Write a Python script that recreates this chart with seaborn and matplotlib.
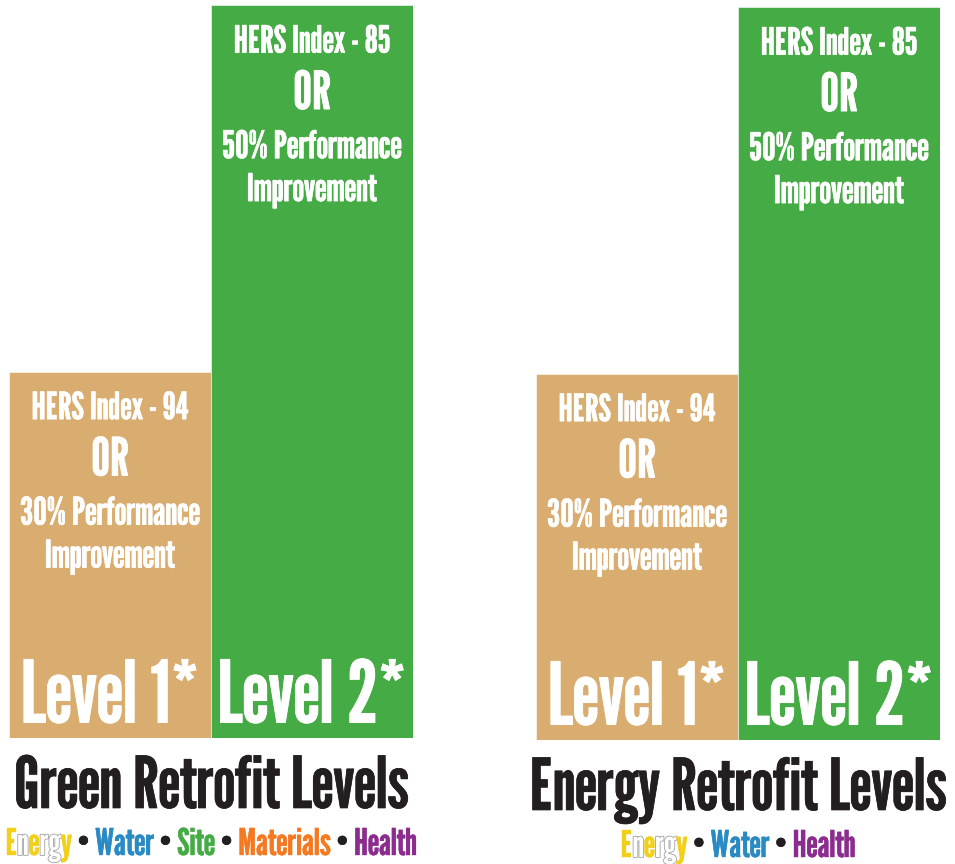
import matplotlib
matplotlib.use("Agg")
import pandas as pd
import matplotlib.pyplot as plt
import matplotlib.patheffects as pe
from matplotlib.transforms import IdentityTransform
import seaborn as sns

# данные
levels = ["Level 1*", "Level 2*"]
heights = [1.0, 2.0]
hers_index = [94, 85]
performance = [30, 50]
panel_titles = ["Green Retrofit Levels", "Energy Retrofit Levels"]
panel_categories = [
    ["Energy", "Water", "Site", "Materials", "Health"],
    ["Energy", "Water", "Health"],
]

bar_colors = ["#D9AD6F", "#45AB44"]
cat_colors = {
    "Water": "#2A8AC4",
    "Site": "#45AB44",
    "Materials": "#F47920",
    "Health": "#8B2C8E",
}
energy_yellow = "#F2D01A"
energy_outline = [False, True, False, True, True, False]  # какие буквы "Energy" контурные

sns.set_theme(style="white")
plt.rcParams["font.family"] = ["League Gothic", "DejaVu Sans"]

W_PX, H_PX = 955, 864
fig = plt.figure(figsize=(W_PX / 100, H_PX / 100), dpi=100)
renderer = fig.canvas.get_renderer()

# позиции панелей в пикселях: left, bottom, width, height
panel_boxes = [(9, 126, 404, 733), (536, 124, 404, 733)]
title_base = [56, 54]
sub_base = [9, 7]


def bold(color, lw=0.4):
    # чуть утолщаем шрифт обводкой того же цвета
    return [pe.withStroke(linewidth=lw, foreground=color)]


def text_width(s, size):
    t = fig.text(0, 0, s, fontsize=size)
    w = t.get_window_extent(renderer).width
    t.remove()
    return w


def draw_colored_line(cx, y, pieces, size):
    """pieces: список (текст, цвет, контур); пробелы только сдвигают позицию"""
    full = ""
    spans = []
    for s, c, outline in pieces:
        full += s
        spans.append((s, c, outline, len(full)))
    total = text_width(full, size)
    x0 = cx - total / 2
    for s, c, outline, end in spans:
        if not s.strip():
            continue
        off = text_width(full[:end], size) - text_width(s, size)
        if outline:
            effects = [pe.withStroke(linewidth=1.3, foreground="#A8A8A8")]
        else:
            effects = bold(c, 0.3)
        fig.text(x0 + off, y, s, fontsize=size, color=c, ha="left", va="baseline",
                 transform=IdentityTransform(), path_effects=effects)


for p, (box, title, cats) in enumerate(zip(panel_boxes, panel_titles, panel_categories)):
    l, b, w, h = box
    ax = fig.add_axes([l / W_PX, b / H_PX, w / W_PX, h / H_PX])
    df = pd.DataFrame({"level": levels, "height": heights})
    sns.barplot(data=df, x="level", y="height", hue="level", palette=bar_colors,
                saturation=1, width=1.0, ax=ax, legend=False,
                edgecolor="white", linewidth=0.4)
    ax.set_xlim(-0.5, 1.5)
    ax.set_ylim(0, max(heights))
    ax.axis("off")

    for i, top in enumerate(heights):
        ax.text(i, top - 0.13, f"HERS Index - {hers_index[i]}", color="white",
                fontsize=27, ha="center", va="baseline", path_effects=bold("white"))
        ax.text(i, top - 0.284, "OR", color="white", fontsize=38,
                ha="center", va="baseline", path_effects=bold("white", 0.5))
        ax.text(i, top - 0.418, f"{performance[i]}% Performance", color="white",
                fontsize=27.5, ha="center", va="baseline", path_effects=bold("white"))
        ax.text(i, top - 0.535, "Improvement", color="white", fontsize=27.5,
                ha="center", va="baseline", path_effects=bold("white"))
        ax.text(i, 0.042, levels[i], color="white", fontsize=62,
                ha="center", va="baseline", path_effects=bold("white", 0.6))

    cx = l + w / 2
    fig.text(cx, title_base[p], title, fontsize=51.5, color="#231F20",
             ha="center", va="baseline", transform=IdentityTransform(),
             path_effects=bold("#231F20", 0.5))

    pieces = []
    for k, cat in enumerate(cats):
        if k > 0:
            pieces += [(" ", "black", False), ("•", "#231F20", False), (" ", "black", False)]
        if cat == "Energy":
            for ch, ol in zip(cat, energy_outline):
                pieces.append((ch, "white" if ol else energy_yellow, ol))
        else:
            pieces.append((cat, cat_colors[cat], False))
    draw_colored_line(cx, sub_base[p], pieces, 26.5)

fig.savefig("out.png", dpi=100)
